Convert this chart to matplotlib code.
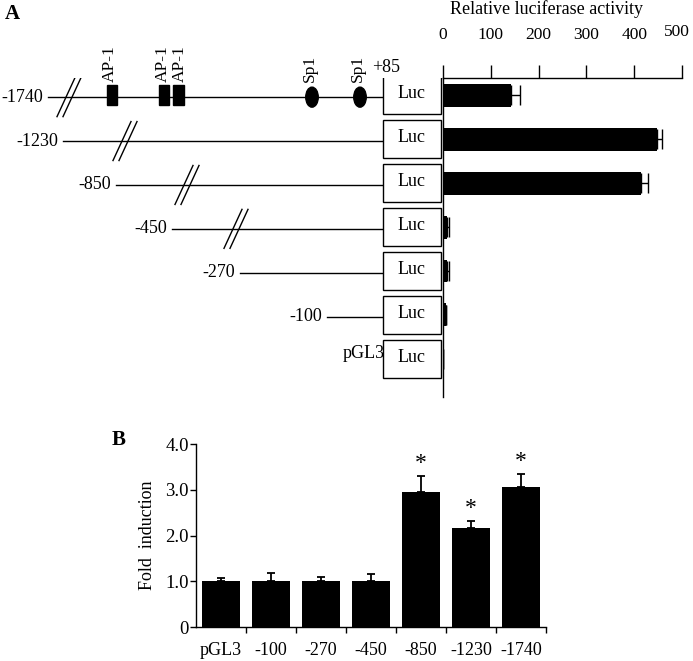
import numpy as np
import matplotlib
matplotlib.use("Agg")
import matplotlib.pyplot as plt
import matplotlib.transforms as mtransforms
from matplotlib.patches import Rectangle, Ellipse

# panel A: deletion constructs, top to bottom
constructs = ["-1740", "-1230", "-850", "-450", "-270", "-100", "pGL3"]
luc_activity = [143, 448, 414, 8, 8, 6, 1]
luc_error = [18, 10, 14, 4, 5, 1, 0]
activity_ticks = [0, 100, 200, 300, 400, 500]

# binding sites drawn on the full-length construct
ap1_sites = ["AP-1", "AP-1", "AP-1"]
sp1_sites = ["Sp1", "Sp1"]

# panel B: fold induction
fold_labels = ["pGL3", "-100", "-270", "-450", "-850", "-1230", "-1740"]
fold_values = [1.01, 1.0, 1.0, 1.0, 2.95, 2.17, 3.07]
fold_error = [0.07, 0.17, 0.09, 0.16, 0.34, 0.15, 0.27]
fold_signif = [False, False, False, False, True, True, True]

# schematic layout (x in pixels of the diagram area)
line_start = [48, 63, 116, 172, 240, 327, None]
break_x = [69, 125, 187, 236, None, None, None]
ap1_x = [112, 164, 178.5]
ap1_label_x = [110, 162.5, 180]
sp1_x = [312, 360]
luc_left, luc_right = 383, 441

plt.rcParams["font.family"] = ["Liberation Serif", "DejaVu Serif"]
plt.rcParams["font.size"] = 13

W, H = 693, 661
fig = plt.figure(figsize=(W / 100, H / 100), dpi=100)

# row geometry (pixels)
row0_px, row_px = 95.4, 43.9
top_px, bot_px = 78, 397
y_top = (top_px - row0_px) / row_px
y_bot = (bot_px - row0_px) / row_px


def px_rows(p):
    return p / row_px


# --- bar chart of panel A
ax_a = fig.add_axes([443 / W, 1 - bot_px / H, (682 - 443) / W, (bot_px - top_px) / H])
rows = np.arange(len(constructs))
ax_a.barh(rows, luc_activity, height=0.52, color="black",
          xerr=[np.zeros(len(luc_error)), luc_error],
          error_kw=dict(ecolor="black", elinewidth=1, capsize=7, capthick=1))
ax_a.set_xlim(0, 500)
ax_a.set_ylim(y_bot, y_top)
ax_a.xaxis.tick_top()
ax_a.set_xticks(activity_ticks)
ax_a.tick_params(axis="x", direction="out", length=9.4, width=1, pad=16, labelsize=12.5)
ax_a.set_yticks([])
# last label sits at the figure edge, nudged in and slightly up as in the original
last = ax_a.get_xticklabels()[-1]
last.set_transform(last.get_transform() + mtransforms.ScaledTranslation(-5 / 100, 3 / 100, fig.dpi_scale_trans))
for side in ["right", "bottom"]:
    ax_a.spines[side].set_visible(False)
for side in ["left", "top"]:
    ax_a.spines[side].set_linewidth(1)
fig.text(546 / W, 1 - 9 / H, "Relative luciferase activity", ha="center", va="center", fontsize=13)

# --- construct schematic, sharing rows with the bar chart
ax_d = fig.add_axes([0, 1 - bot_px / H, 443 / W, (bot_px - top_px) / H], sharey=ax_a)
ax_d.set_xlim(0, 443)
ax_d.set_ylim(y_bot, y_top)
ax_d.axis("off")

for i, name in enumerate(constructs):
    ax_d.add_patch(Rectangle((luc_left, i - px_rows(19)), luc_right - luc_left, px_rows(38),
                             facecolor="white", edgecolor="black", lw=1, zorder=3))
    ax_d.text((luc_left + luc_right) / 2, i - 0.04, "Luc", ha="center", va="center", zorder=4)
    if line_start[i] is None:
        ax_d.text(luc_left + 2, i - 0.13, name, ha="right", va="center")
        continue
    yl = i + 0.04
    ax_d.plot([line_start[i], luc_left], [yl, yl], color="black", lw=1)
    ax_d.text(line_start[i] - 5, yl, name, ha="right", va="center")
    if break_x[i] is not None:
        for dx in (-3, 3):
            bx = break_x[i] + dx
            ax_d.plot([bx - 9, bx + 9], [yl + px_rows(19.5), yl - px_rows(19.5)],
                      color="black", lw=1, zorder=2)

label_y = -px_rows(13)
for x, lx, name in zip(ap1_x, ap1_label_x, ap1_sites):
    ax_d.add_patch(Rectangle((x - 5, -px_rows(10)), 10.5, px_rows(20), color="black", zorder=3))
    ax_d.text(lx, label_y, name, rotation=90, ha="center", va="bottom", fontsize=12.5)
for x, name in zip(sp1_x, sp1_sites):
    ax_d.add_patch(Ellipse((x, 0.04), 12.5, px_rows(20), color="black", zorder=3))
    ax_d.text(x - 2, label_y, name, rotation=90, ha="center", va="bottom", fontsize=12.5)
ax_d.text(372, -px_rows(28), "+85", ha="left", va="center")

fig.text(12 / W, 1 - 14 / H, "A", fontsize=15, fontweight="bold", ha="center", va="center")

# --- panel B
ax_b = fig.add_axes([196 / W, 1 - 627 / H, 350 / W, (627 - 444) / H])
xpos = np.arange(len(fold_labels))
ax_b.bar(xpos, fold_values, width=0.77, color="black",
         yerr=[np.zeros(len(fold_error)), fold_error],
         error_kw=dict(ecolor="black", elinewidth=1.3, capsize=3, capthick=1.3))
for x, v, e, s in zip(xpos, fold_values, fold_error, fold_signif):
    if s:
        ax_b.annotate("*", (x, v + e), xytext=(0, 1.5), textcoords="offset points",
                      ha="center", va="bottom", fontsize=17)
ax_b.set_xlim(-0.5, len(fold_labels) - 0.5)
ax_b.set_ylim(0, 4)
ax_b.set_yticks([0, 1, 2, 3, 4])
ax_b.set_yticklabels(["0", "1.0", "2.0", "3.0", "4.0"])
ax_b.set_xticks(xpos)
ax_b.set_xticklabels(fold_labels)
ax_b.set_xticks(np.arange(0.5, len(fold_labels), 1), minor=True)
ax_b.tick_params(axis="x", which="major", length=0, pad=11)
ax_b.tick_params(axis="x", which="minor", direction="out", length=4, width=1)
ax_b.tick_params(axis="y", direction="out", length=4, width=1, pad=1, labelsize=13.5)
for side in ["right", "top"]:
    ax_b.spines[side].set_visible(False)
for side in ["left", "bottom"]:
    ax_b.spines[side].set_linewidth(1)
ax_b.set_ylabel("Fold  induction")
ax_b.yaxis.set_label_coords((156 - 196) / 350, 0.5)

fig.text(119 / W, 1 - 440 / H, "B", fontsize=15, fontweight="bold", ha="center", va="center")

fig.savefig("out.png", dpi=100)
